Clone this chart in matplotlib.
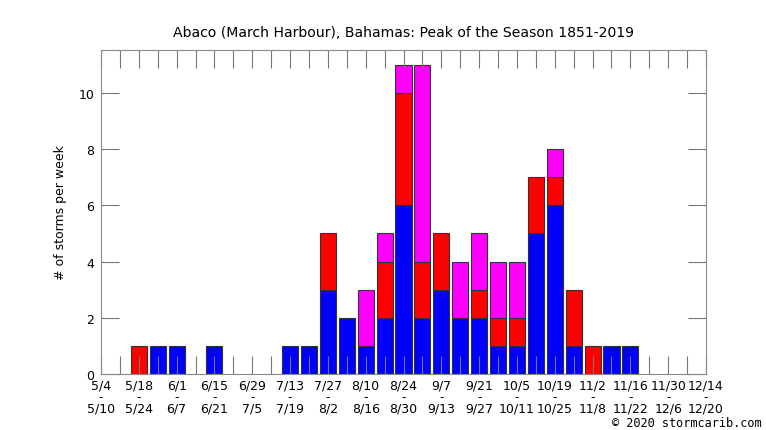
import numpy as np
import matplotlib
matplotlib.use('Agg')
import matplotlib.pyplot as plt

# week start dates, 5/4 .. 12/14
week_starts = ['5/4', '5/11', '5/18', '5/25', '6/1', '6/8', '6/15', '6/22', '6/29', '7/6',
               '7/13', '7/20', '7/27', '8/3', '8/10', '8/17', '8/24', '8/31', '9/7', '9/14',
               '9/21', '9/28', '10/5', '10/12', '10/19', '10/26', '11/2', '11/9', '11/16', '11/23',
               '11/30', '12/7', '12/14']
week_ends = ['5/10', '5/17', '5/24', '5/31', '6/7', '6/14', '6/21', '6/28', '7/5', '7/12',
             '7/19', '7/26', '8/2', '8/9', '8/16', '8/23', '8/30', '9/6', '9/13', '9/20',
             '9/27', '10/4', '10/11', '10/18', '10/25', '11/1', '11/8', '11/15', '11/22', '11/29',
             '12/6', '12/13', '12/20']

blue = [0, 0, 0, 1, 1, 0, 1, 0, 0, 0, 1, 1, 3, 2, 1, 2, 6, 2, 3, 2, 2, 1, 1, 5, 6, 1, 0, 1, 1, 0, 0, 0, 0]
red = [0, 0, 1, 0, 0, 0, 0, 0, 0, 0, 0, 0, 2, 0, 0, 2, 4, 2, 2, 0, 1, 1, 1, 2, 1, 2, 1, 0, 0, 0, 0, 0, 0]
magenta = [0, 0, 0, 0, 0, 0, 0, 0, 0, 0, 0, 0, 0, 0, 2, 1, 1, 7, 0, 2, 2, 2, 2, 0, 1, 0, 0, 0, 0, 0, 0, 0, 0]

x = np.arange(len(week_starts))
b = np.array(blue)
r = np.array(red)
m = np.array(magenta)

fig = plt.figure(figsize=(7.66, 4.31), dpi=100)
ax = fig.add_axes([101/766, 1 - 375/431, (706-101)/766, (375-51)/431])

w = 0.85
ec = '#333333'
for vals, bottom, col in [(b, 0, '#0000ff'), (r, b, '#ff0000'), (m, b + r, '#ff00ff')]:
    mask = vals > 0
    ax.bar(x[mask], vals[mask], bottom=(np.zeros_like(vals) + bottom)[mask], width=w,
           color=col, edgecolor=ec, linewidth=0.8)

ax.set_xlim(0, len(x) - 1)
ax.set_ylim(0, 11.53)

labels = [f'{s}\n-\n{e}' if i % 2 == 0 else '' for i, (s, e) in enumerate(zip(week_starts, week_ends))]
ax.set_xticks(x)
ax.set_xticklabels(labels, fontsize=9, linespacing=0.85)
ax.set_yticks([0, 2, 4, 6, 8, 10])
ax.set_yticklabels(['0', '2', '4', '6', '8', '10'], fontsize=9)

ax.tick_params(axis='x', direction='in', length=13, width=0.8, color='#777777',
               top=True, bottom=True, pad=3)
ax.tick_params(axis='y', direction='in', length=13, width=0.8, color='#777777',
               left=True, right=True, pad=5)
for s in ax.spines.values():
    s.set_color('#888888')
    s.set_linewidth(0.8)

ax.set_ylabel('# of storms per week', fontsize=9, labelpad=8)
ax.set_title('Abaco (March Harbour), Bahamas: Peak of the Season 1851-2019', fontsize=10.1, pad=10)

fig.text(762/766, 1 - 424/431, '\u00a9 2020 stormcarib.com', ha='right', va='center',
         fontsize=8.6, family='DejaVu Sans Mono')

fig.savefig('out.png', dpi=100)
